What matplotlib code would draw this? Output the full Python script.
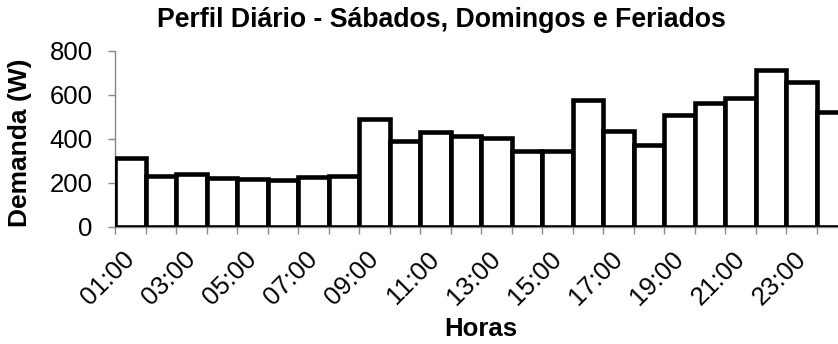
import matplotlib
matplotlib.use("Agg")
import matplotlib.pyplot as plt
import numpy as np

plt.rcParams["font.family"] = ["Liberation Sans", "DejaVu Sans"]

horas = [f"{h:02d}:00" for h in range(1, 25)]
demanda = [315, 232, 242, 223, 217, 212, 228, 232, 490, 391,
           432, 412, 405, 345, 345, 579, 436, 371, 508, 564,
           588, 712, 659, 523]
yticks = [0, 200, 400, 600, 800]

W, H = 838, 344
fig = plt.figure(figsize=(W / 100, H / 100), dpi=100)
# axes runs slightly past the right edge, like the original export
ax = fig.add_axes([115 / W, 117 / H, 732 / W, 176 / H])

x = np.arange(1, len(demanda) + 1)
ax.bar(x, demanda, width=1.0, color="white", edgecolor="black",
       linewidth=3.3, zorder=3)

ax.set_xlim(0.5, 24.5)
ax.set_ylim(0, 800)
ax.set_yticks(yticks)
ax.set_yticklabels([str(v) for v in yticks], fontsize=18.5)

# ticks on category boundaries, labels every other hour
ax.set_xticks(np.arange(0.5, 25, 1.0))
ax.set_xticklabels([])
ax.tick_params(axis="x", length=5, color="#888888", width=1)
ax.tick_params(axis="y", length=5, color="#888888", width=1, pad=11)
for i in range(0, 24, 2):
    ax.text(x[i] + 0.3, -91, horas[i], rotation=45, ha="right", va="top",
            fontsize=18.5, clip_on=False)

for side in ["top", "right"]:
    ax.spines[side].set_visible(False)
for side in ["left", "bottom"]:
    ax.spines[side].set_color("#888888")
    ax.spines[side].set_linewidth(1)

fig.text(441 / W, 1 - 27 / H, "Perfil Diário - Sábados, Domingos e Feriados",
         ha="center", va="baseline", fontsize=19.2, fontweight="bold")
fig.text(481 / W, 1 - 336 / H, "Horas", ha="center", va="baseline",
         fontsize=18.5, fontweight="bold")
fig.text(27 / W, 1 - 143 / H, "Demanda (W)", ha="center", va="baseline",
         rotation=90, rotation_mode="anchor", fontsize=19, fontweight="bold")

fig.savefig("out.png", dpi=100)
